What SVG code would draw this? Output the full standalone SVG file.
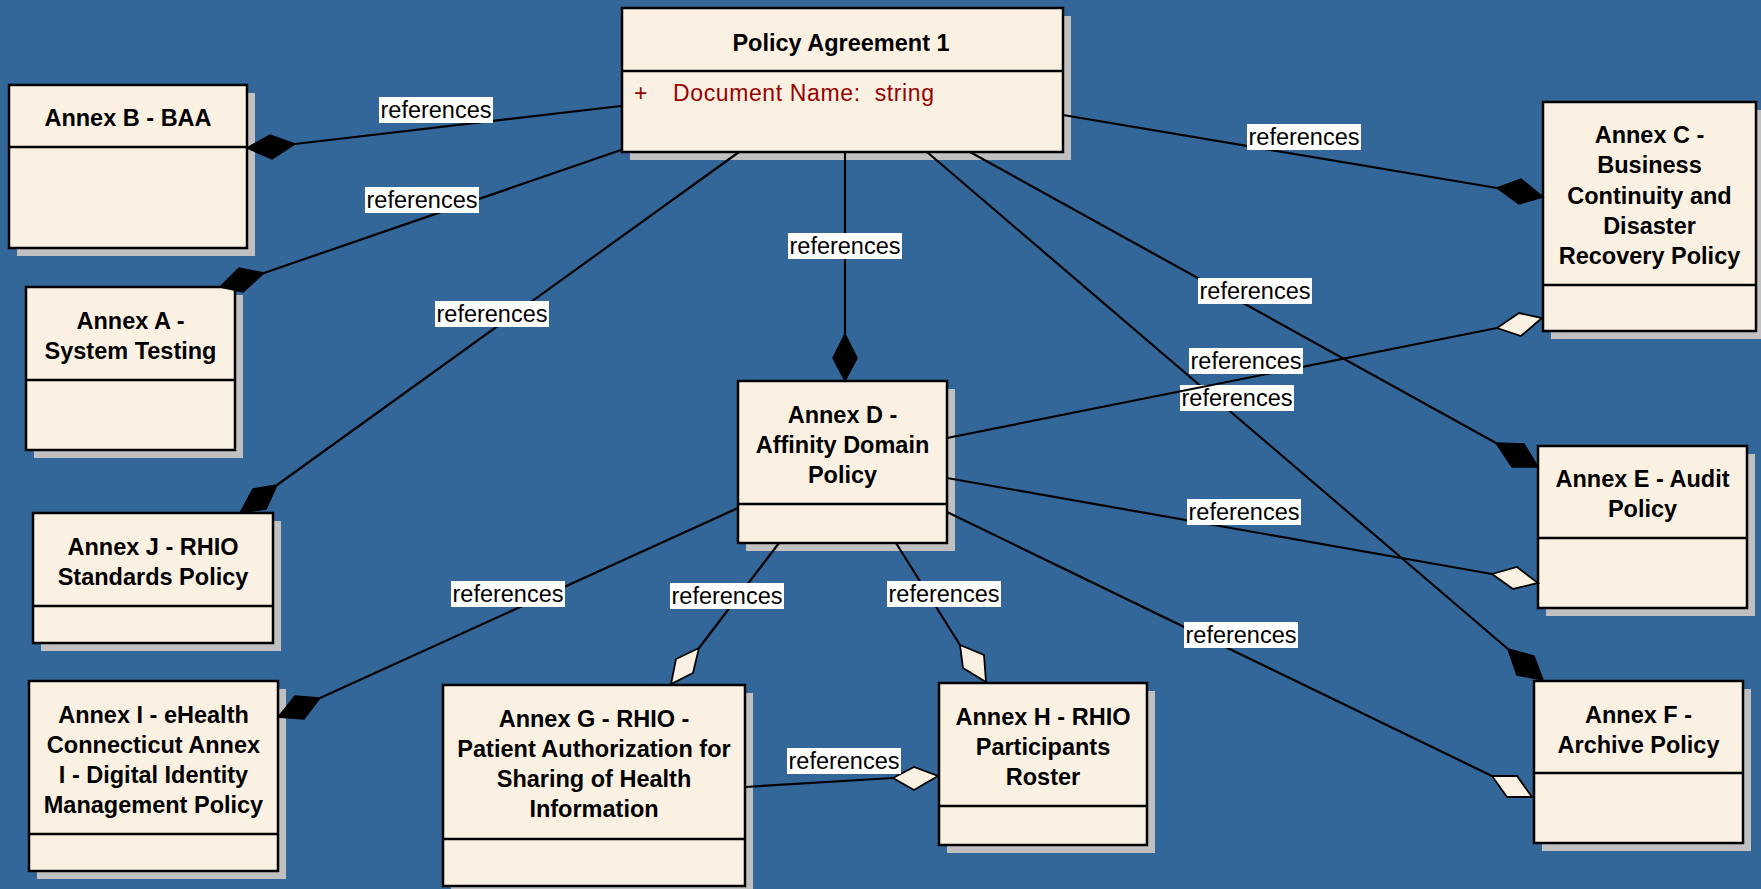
<svg xmlns="http://www.w3.org/2000/svg" width="1761" height="889" viewBox="0 0 1761 889">
<defs>
<style>
.sh{fill:#c0c0c0;stroke:none}
.box{fill:#fbf1e3;stroke:#000;stroke-width:2.5}
.div{stroke:#000;stroke-width:2.5}
.t{font-family:"Liberation Sans",Arial,sans-serif;font-weight:bold;font-size:23.5px;fill:#000;text-anchor:middle}
.attr{font-family:"Liberation Sans",Arial,sans-serif;font-size:23px;fill:#990000}
.ln{stroke:#000;stroke-width:2.2;fill:none}
.fd{fill:#000;stroke:#000;stroke-width:1.5;stroke-linejoin:miter}
.hd{fill:#fbf1e3;stroke:#000;stroke-width:1.8;stroke-linejoin:miter}
.lb{fill:#fff}
.lt{font-family:"Liberation Sans",Arial,sans-serif;font-size:23.5px;fill:#000;text-anchor:middle}
</style>
</defs>
<rect x="0" y="0" width="1761" height="889" fill="#336699"/>

<g id="policy-agreement-1">
<rect class="sh" x="630" y="16" width="441" height="144"/>
<rect class="box" x="622" y="8" width="441" height="144"/>
<line class="div" x1="622" y1="71" x2="1063" y2="71"/>
<text class="t" x="841" y="51">Policy Agreement 1</text>
<text class="attr" x="634" y="101">+</text>
<text class="attr" x="673" y="101" xml:space="preserve" textLength="261">Document Name:  string</text>
</g>

<g id="annex-b">
<rect class="sh" x="17" y="93" width="238" height="163"/>
<rect class="box" x="9" y="85" width="238" height="163"/>
<line class="div" x1="9" y1="147" x2="247" y2="147"/>
<text class="t" x="128" y="126">Annex B - BAA</text>
</g>

<g id="annex-a">
<rect class="sh" x="34" y="295" width="209" height="163"/>
<rect class="box" x="26" y="287" width="209" height="163"/>
<line class="div" x1="26" y1="380" x2="235" y2="380"/>
<text class="t" x="130.5" y="329">Annex A -</text>
<text class="t" x="130.5" y="359">System Testing</text>
</g>

<g id="annex-j">
<rect class="sh" x="41" y="521" width="240" height="130"/>
<rect class="box" x="33" y="513" width="240" height="130"/>
<line class="div" x1="33" y1="606" x2="273" y2="606"/>
<text class="t" x="153" y="555">Annex J - RHIO</text>
<text class="t" x="153" y="585">Standards Policy</text>
</g>

<g id="annex-i">
<rect class="sh" x="37" y="689" width="249" height="190"/>
<rect class="box" x="29" y="681" width="249" height="190"/>
<line class="div" x1="29" y1="834" x2="278" y2="834"/>
<text class="t" x="153.5" y="723">Annex I - eHealth</text>
<text class="t" x="153.5" y="753">Connecticut Annex</text>
<text class="t" x="153.5" y="783">I - Digital Identity</text>
<text class="t" x="153.5" y="813">Management Policy</text>
</g>

<g id="annex-g">
<rect class="sh" x="451" y="693" width="302" height="201"/>
<rect class="box" x="443" y="685" width="302" height="201"/>
<line class="div" x1="443" y1="839" x2="745" y2="839"/>
<text class="t" x="594" y="727">Annex G - RHIO -</text>
<text class="t" x="594" y="757">Patient Authorization for</text>
<text class="t" x="594" y="787">Sharing of Health</text>
<text class="t" x="594" y="817">Information</text>
</g>

<g id="annex-h">
<rect class="sh" x="947" y="691" width="208" height="162"/>
<rect class="box" x="939" y="683" width="208" height="162"/>
<line class="div" x1="939" y1="806" x2="1147" y2="806"/>
<text class="t" x="1043" y="725">Annex H - RHIO</text>
<text class="t" x="1043" y="755">Participants</text>
<text class="t" x="1043" y="785">Roster</text>
</g>

<g id="annex-d">
<rect class="sh" x="746" y="389" width="209" height="162"/>
<rect class="box" x="738" y="381" width="209" height="162"/>
<line class="div" x1="738" y1="504" x2="947" y2="504"/>
<text class="t" x="842.5" y="423">Annex D -</text>
<text class="t" x="842.5" y="453">Affinity Domain</text>
<text class="t" x="842.5" y="483">Policy</text>
</g>

<g id="annex-c">
<rect class="sh" x="1551" y="110" width="213" height="229"/>
<rect class="box" x="1543" y="102" width="213" height="229"/>
<line class="div" x1="1543" y1="285" x2="1756" y2="285"/>
<text class="t" x="1649.5" y="143">Annex C -</text>
<text class="t" x="1649.5" y="173">Business</text>
<text class="t" x="1649.5" y="204">Continuity and</text>
<text class="t" x="1649.5" y="234">Disaster</text>
<text class="t" x="1649.5" y="264">Recovery Policy</text>
</g>

<g id="annex-e">
<rect class="sh" x="1546" y="454" width="209" height="162"/>
<rect class="box" x="1538" y="446" width="209" height="162"/>
<line class="div" x1="1538" y1="538" x2="1747" y2="538"/>
<text class="t" x="1642.5" y="487">Annex E - Audit</text>
<text class="t" x="1642.5" y="517">Policy</text>
</g>

<g id="annex-f">
<rect class="sh" x="1542" y="689" width="209" height="162"/>
<rect class="box" x="1534" y="681" width="209" height="162"/>
<line class="div" x1="1534" y1="773" x2="1743" y2="773"/>
<text class="t" x="1638.5" y="723">Annex F -</text>
<text class="t" x="1638.5" y="753">Archive Policy</text>
</g>

<g id="connectors">
<line class="ln" x1="621" y1="106" x2="295" y2="144"/>
<polygon class="fd" points="247,148 270,135 295,144 272,159"/>
<rect class="lb" x="379" y="97" width="114" height="26"/><text class="lt" x="436" y="118">references</text>

<line class="ln" x1="621" y1="150" x2="264" y2="273"/>
<polygon class="fd" points="264,273 239,268 220,287 243,292"/>
<rect class="lb" x="365" y="187" width="114" height="26"/><text class="lt" x="422" y="208">references</text>

<line class="ln" x1="739" y1="152" x2="277" y2="485"/>
<polygon class="fd" points="277,485 253,489 240,513 266,509"/>
<rect class="lb" x="435" y="301" width="114" height="26"/><text class="lt" x="492" y="322">references</text>

<line class="ln" x1="845" y1="152" x2="845" y2="334"/>
<polygon class="fd" points="845,334 857,358 845,381 833,358"/>
<rect class="lb" x="788" y="233" width="114" height="26"/><text class="lt" x="845" y="254">references</text>

<line class="ln" x1="1063" y1="115" x2="1497" y2="188"/>
<polygon class="fd" points="1497,188 1521,179 1543,197 1519,204"/>
<rect class="lb" x="1247" y="124" width="114" height="26"/><text class="lt" x="1304" y="145">references</text>

<line class="ln" x1="970" y1="152" x2="1496" y2="443"/>
<polygon class="fd" points="1496,443 1524,444 1538,467 1512,467"/>
<rect class="lb" x="1198" y="278" width="114" height="26"/><text class="lt" x="1255" y="299">references</text>

<line class="ln" x1="927" y1="152" x2="1508" y2="649"/>
<polygon class="fd" points="1508,649 1534,656 1543,680 1517,675"/>
<rect class="lb" x="1180" y="385" width="114" height="26"/><text class="lt" x="1237" y="406">references</text>

<line class="ln" x1="947" y1="438" x2="1497" y2="328"/>
<polygon class="hd" points="1497,328 1519,313 1542,318 1521,336"/>
<rect class="lb" x="1189" y="348" width="114" height="26"/><text class="lt" x="1246" y="369">references</text>

<line class="ln" x1="947" y1="478" x2="1492" y2="574"/>
<polygon class="hd" points="1492,574 1517,567 1538,583 1513,589"/>
<rect class="lb" x="1187" y="499" width="114" height="26"/><text class="lt" x="1244" y="520">references</text>

<line class="ln" x1="947" y1="512" x2="1492" y2="776"/>
<polygon class="hd" points="1492,776 1517,776 1532,797 1507,797"/>
<rect class="lb" x="1184" y="622" width="114" height="26"/><text class="lt" x="1241" y="643">references</text>

<line class="ln" x1="738" y1="508" x2="320" y2="698"/>
<polygon class="fd" points="320,698 295,696 278,717 304,719"/>
<rect class="lb" x="451" y="581" width="114" height="26"/><text class="lt" x="508" y="602">references</text>

<line class="ln" x1="779" y1="543" x2="699" y2="648"/>
<polygon class="hd" points="699,648 676,659 671,684 693,673"/>
<rect class="lb" x="670" y="583" width="114" height="26"/><text class="lt" x="727" y="604">references</text>

<line class="ln" x1="896" y1="543" x2="960" y2="645"/>
<polygon class="hd" points="960,645 984,655 986,682 963,668"/>
<rect class="lb" x="887" y="581" width="114" height="26"/><text class="lt" x="944" y="602">references</text>

<line class="ln" x1="745" y1="787" x2="893" y2="778"/>
<polygon class="hd" points="893,778 914,767 938,776 914,790"/>
<rect class="lb" x="787" y="748" width="114" height="26"/><text class="lt" x="844" y="769">references</text>
</g>
</svg>
